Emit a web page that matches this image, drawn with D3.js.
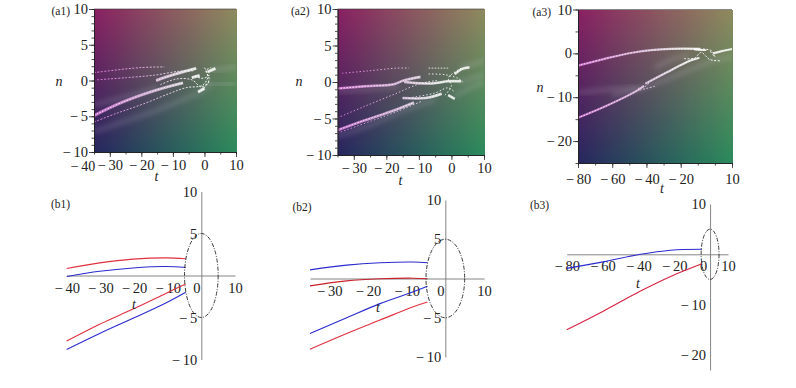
<!DOCTYPE html>
<html>
<head>
<meta charset="utf-8">
<script src="https://cdn.jsdelivr.net/npm/d3@7"></script>
<style>
html, body { margin: 0; padding: 0; background: #fff; }
svg { display: block; }
text { font-family: "Liberation Serif", serif; fill: #222; }
</style>
</head>
<body>
<script>
// background corner colours of the density plots
const cornerTL = "#8a2062", cornerTR = "#8f8a5e", cornerBL = "#26265e", cornerBR = "#2a8a5c";

// (a1) ridges, [t, n]
const a1Bright = [
    [[-35, -4.9], [-25.8, -3], [-15.3, -1.35], [-6.8, -0.33]],
    [[-15.3, 0], [-12.1, 0.5], [-6.8, 1.2], [-2.6, 1.7]],
    [[-4, 0.4], [-1.5, 0.7]],
    [[1, 1.2], [3.5, 1.7]],
    [[-2, -1.6], [0, -1.1]]
];
const a1Dotted = [
    [[-35, 1.1], [-20.5, 1.8], [-12.7, 1.9]],
    [[-34, 0.1], [-24.7, 0.4], [-15.8, 0.75], [-7.9, 1.3], [-3.2, 1.35]],
    [[-35, -5.8], [-27.9, -4.6], [-19.5, -3.3], [-11, -1.8], [-5.8, -1], [-0.5, -0.65], [1.5, 0.8]],
    [[-14, -0.6], [-9, 0.2], [-4, 0.1], [-1, -0.9], [1.5, -0.2]],
    [[-2, -1.6], [0, -1], [1.5, 0.2], [0.5, 1.4], [2, 1.8]],
    [[-3, 0.7], [-1, 0.3], [1, 0.6], [0, 1.8]]
];
const a1Glow = [
    [[-35, -7.2], [-25.8, -5.8], [-15.3, -4.2], [-5.8, -2.5], [-0.5, -1.4], [2, -0.3]],
    [[-35, -3.4], [-25, -2.3], [-15, -1]],
    [[2, 1.4], [6, 1.6], [10, 2]],
    [[1, -0.6], [5, -0.5], [10, -0.4]]
];

// (a2) ridges
const a2Bright = [
    [[-35, -0.9], [-27, -0.6], [-17.7, -0.3], [-14.7, 0.2], [-9.5, 0.7]],
    [[-35, -6.6], [-27, -5.3], [-17.7, -3.9], [-11.5, -2.8]],
    [[-15, -2.2], [-8, -2.2], [-3, -1.6]],
    [[-1, -1.8], [1, -2.3]],
    [[-14.5, 0], [-6, -0.2], [-1, 0.1], [3, 0.1]],
    [[-7, 1.9], [-1, 1.9]],
    [[1, 1.1], [3.3, 1.8], [5.5, 2]]
];
const a2Dotted = [
    [[-33.6, 1.2], [-26, 1.5], [-16.7, 1.9], [-13, 1.9]],
    [[-35, -4.9], [-27, -3.4], [-17.7, -1.7], [-9.5, -0.2], [-4.4, 0.2]],
    [[-35, -7], [-25, -5.4], [-17, -4.1], [-9, -2.6]],
    [[-2, -1.8], [0, -0.5], [-1, 0.5], [0.5, 1.2], [3, 1.9]],
    [[-7, 1.1], [-2, 1], [2, 0.5], [3.5, 0]],
    [[-12, -2.1], [-5, -1.5], [-1, -0.8], [1, -1.4]]
];
const a2Glow = [
    [[-35, -1.3], [-25, -1], [-16, -0.6]],
    [[-35, -7.4], [-25, -5.9], [-15, -4], [-5, -2.4]],
    [[3, 2], [6.5, 2.4], [10, 2.9]],
    [[2, -0.1], [6, 0.4], [10, 1]],
    [[1, -1.9], [5, -1], [10, 0]]
];

// (a3) ridges
const a3Bright = [
    [[-80, -2.8], [-65, -1.3], [-47.4, 0.2], [-26, 1], [-8.5, 1]],
    [[-80, -14.7], [-63, -11.9], [-45.5, -8.5], [-41.5, -7.4]],
    [[-40.6, -6.9], [-28, -4.3], [-14.3, -1.65], [-9, -1]],
    [[-1, 0], [4, 0.5], [10, 1]],
    [[-12, 0.9], [-5, 0.7]]
];
const a3Dotted = [
    [[-44, -8.4], [-40, -8], [-35, -7.5]],
    [[-45, -8], [-41, -7.6], [-38, -6.6]],
    [[-18, -1.2], [-12, -1.1], [-8, 0.2], [-3, -1.4], [3, -1.7]],
    [[-7, 1], [-2, 0.6], [0, -0.8], [-3, 0.6]]
];
const a3Glow = [
    [[-80, -9], [-60, -8.2], [-44, -7.8]],
    [[-60, -9.5], [-45, -8.2], [-30, -6.2], [-15, -3.8], [0, -1.6], [10, -0.8]],
    [[-35, -3.2], [-25, -1.4], [-15, -0.4]]
];

// (b) curves
const tB1 = [-40, -30.2, -20.3, -10.4, -4.65];
const b1RedUpper = [0.83, 1.5, 1.95, 2.1, 2];
const b1BlueUpper = [-0.12, 0.5, 0.9, 1.07, 0.95];
const b1RedLower = [-7.8, -5.8, -4, -2.1, -1];
const b1BlueLower = [-8.8, -6.9, -5.1, -3.25, -2];

const tB2 = [-35, -25.5, -16.9, -8.3, -4.6];
const b2BlueUpper = [1.1, 1.7, 2, 2.1, 2];
const b2RedUpper = [-0.94, -0.3, -0.04, 0.04, -0.04];
const b2BlueLower = [-7, -5, -3.2, -1.7, -1];
const b2RedLower = [-9, -7, -5.3, -3.6, -3];

const tB3 = [-80, -59.6, -38.8, -22, -4.5];
const b3Blue = [-2.8, -1.5, 0, 0.8, 1];
const b3Red = [-15, -11.3, -7.3, -4.4, -1.9];

const circleRadius = 5;

// tick values
const a1XTicks = [-30, -20, -10, 0, 10], a1XMinor = d3.range(-35, 11, 5);
const a2XTicks = [-30, -20, -10, 0, 10], a2XMinor = d3.range(-35, 11, 5);
const a3XTicks = [-80, -60, -40, -20, 10], a3XMinor = d3.range(-80, 11, 10);
const aYTicks = [-10, -5, 0, 5, 10], aYMinor = d3.range(-10, 11, 1);
const a3YTicks = [-20, -10, 0, 10], a3YMinor = d3.range(-25, 11, 5);
const b1XTicks = [-40, -30, -20, -10, 0, 10], b2XTicks = [-30, -20, -10, 0, 10], b3XTicks = [-80, -60, -40, -20, 0, 10];
const bYTicks = [-10, -5, 5, 10], b3YTicks = [-20, -10, 10];

const width = 796, height = 388;
const svg = d3.select("body").append("svg").attr("width", width).attr("height", height);
const defs = svg.append("defs");

const fmt = d => d < 0 ? "\u2212\u2009" + (-d) : String(d);

const blur = defs.append("filter").attr("id", "glow")
    .attr("x", "-20%").attr("y", "-50%").attr("width", "140%").attr("height", "200%");
blur.append("feGaussianBlur").attr("stdDeviation", 2.4);
const soft = defs.append("filter").attr("id", "soft")
    .attr("x", "-20%").attr("y", "-50%").attr("width", "140%").attr("height", "200%");
soft.append("feGaussianBlur").attr("stdDeviation", 0.5);

function label(x, y, str, opts = {}) {
    svg.append("text")
        .attr("x", x).attr("y", y)
        .attr("text-anchor", opts.anchor || "middle")
        .attr("font-size", opts.size || 14.5)
        .attr("font-style", opts.italic ? "italic" : null)
        .text(str);
}

function densityPanel(p) {
    const x = d3.scaleLinear().domain(p.xDomain).range(p.xRange);
    const y = d3.scaleLinear().domain(p.yDomain).range(p.yRange);
    const g = svg.append("g");

    // bilinear colour field
    const nCells = 72;
    const top = d3.interpolateRgb(cornerTL, cornerTR), bottom = d3.interpolateRgb(cornerBL, cornerBR);
    const cells = d3.cross(d3.range(nCells), d3.range(nCells));
    const cw = (p.xRange[1] - p.xRange[0]) / nCells, ch = (p.yRange[0] - p.yRange[1]) / nCells;
    g.selectAll(".cell").data(cells).enter().append("rect")
        .attr("class", "cell")
        .attr("shape-rendering", "crispEdges")
        .attr("x", d => p.xRange[0] + d[0] * cw)
        .attr("y", d => p.yRange[1] + d[1] * ch)
        .attr("width", cw + 1)
        .attr("height", ch + 1)
        .attr("fill", d => d3.interpolateRgb(top((d[0] + 0.5) / nCells), bottom((d[0] + 0.5) / nCells))((d[1] + 0.5) / nCells));

    const clipId = "clip" + p.name;
    defs.append("clipPath").attr("id", clipId).append("rect")
        .attr("x", p.xRange[0]).attr("y", p.yRange[1])
        .attr("width", p.xRange[1] - p.xRange[0]).attr("height", p.yRange[0] - p.yRange[1]);

    const gradId = "ridge" + p.name;
    const grad = defs.append("linearGradient").attr("id", gradId)
        .attr("gradientUnits", "userSpaceOnUse")
        .attr("x1", p.xRange[0]).attr("x2", p.xRange[1]).attr("y1", 0).attr("y2", 0);
    grad.append("stop").attr("offset", 0).attr("stop-color", "#e27be0");
    grad.append("stop").attr("offset", 0.45).attr("stop-color", "#e6c8e8");
    grad.append("stop").attr("offset", 0.7).attr("stop-color", "#ffffff");

    const line = d3.line().x(d => x(d[0])).y(d => y(d[1])).curve(d3.curveCatmullRom);
    const marks = g.append("g").attr("clip-path", `url(#${clipId})`);

    marks.selectAll(".glow").data(p.glow).enter().append("path")
        .attr("d", line).attr("fill", "none")
        .attr("stroke", "#e8dcec").attr("stroke-opacity", 0.16)
        .attr("stroke-width", 4.5).attr("filter", "url(#glow)");
    marks.selectAll(".under").data(p.bright).enter().append("path")
        .attr("d", line).attr("fill", "none")
        .attr("stroke", `url(#${gradId})`).attr("stroke-opacity", 0.8)
        .attr("stroke-width", p.brightWidth).attr("filter", "url(#soft)");
    marks.selectAll(".bright").data(p.bright).enter().append("path")
        .attr("d", line).attr("fill", "none")
        .attr("stroke", "#fff").attr("stroke-width", 0.8)
        .attr("stroke-dasharray", "1.6 1.4");
    marks.selectAll(".dotted").data(p.dotted).enter().append("path")
        .attr("d", line).attr("fill", "none")
        .attr("stroke", `url(#${gradId})`).attr("stroke-width", 0.9)
        .attr("stroke-dasharray", p.dash).attr("filter", "url(#soft)");

    // minor, then labelled ticks
    const bottomY = p.yRange[0], leftX = p.xRange[0];
    const styleAxis = a => {
        a.selectAll("path, line").attr("stroke", "#222").attr("stroke-width", 0.8);
        a.selectAll("text").attr("font-family", '"Liberation Serif", serif').attr("font-size", 14.5).attr("fill", "#222");
    };
    svg.append("g").attr("transform", `translate(0,${bottomY})`)
        .call(d3.axisBottom(x).tickValues(p.xMinor).tickSize(2.5).tickSizeOuter(0).tickFormat(""))
        .call(styleAxis);
    svg.append("g").attr("transform", `translate(${leftX},0)`)
        .call(d3.axisLeft(y).tickValues(p.yMinor).tickSize(2.5).tickSizeOuter(0).tickFormat(""))
        .call(styleAxis);
    svg.append("g").attr("transform", `translate(0,${bottomY})`)
        .call(d3.axisBottom(x).tickValues(p.xTicks).tickSize(5).tickSizeOuter(0).tickPadding(p.xPad).tickFormat(fmt))
        .call(styleAxis);
    svg.append("g").attr("transform", `translate(${leftX},0)`)
        .call(d3.axisLeft(y).tickValues(p.yTicks).tickSize(5).tickSizeOuter(0).tickPadding(1).tickFormat(fmt))
        .call(styleAxis);
    svg.append("line").attr("x1", p.xRange[0]).attr("x2", p.xRange[1])
        .attr("y1", p.yRange[1]).attr("y2", p.yRange[1])
        .attr("stroke", "#333").attr("stroke-width", 0.6);

    label(p.tLabel[0], p.tLabel[1], "t", { italic: true, size: 14 });
    label(p.nLabel[0], p.nLabel[1], "n", { italic: true, size: 14 });
}

function curvePanel(p) {
    const x = d3.scaleLinear().domain(p.xDomain).range(p.xRange);
    const y = d3.scaleLinear().domain(p.yDomain).range(p.yRange);
    const styleAxis = a => {
        a.selectAll("path").attr("stroke", "#777").attr("stroke-width", 0.9);
        a.selectAll("line").attr("stroke", "#999").attr("stroke-width", 0.6);
        a.selectAll("text").attr("font-family", '"Liberation Serif", serif').attr("font-size", 14.5).attr("fill", "#222");
    };
    svg.append("g").attr("transform", `translate(0,${y(0)})`)
        .call(d3.axisBottom(x).tickValues(p.xTicks).tickSize(0).tickPadding(p.xPad).tickFormat(fmt))
        .call(styleAxis)
        .call(a => a.selectAll(".tick text").filter(d => d === 0).attr("dx", p.zeroShift));
    svg.append("g").attr("transform", `translate(${x(0)},0)`)
        .call(d3.axisLeft(y).tickValues(p.yTicks).tickSize(0).tickPadding(4).tickFormat(fmt))
        .call(styleAxis);

    const line = d3.line().x(d => x(d[0])).y(d => y(d[1])).curve(d3.curveCatmullRom);
    p.curves.forEach(c => {
        svg.append("path")
            .attr("d", line(c.t.map((t, i) => [t, c.n[i]])))
            .attr("fill", "none").attr("stroke", c.color).attr("stroke-width", 1.1);
    });
    svg.append("ellipse")
        .attr("cx", x(0)).attr("cy", y(0))
        .attr("rx", x(circleRadius) - x(0)).attr("ry", y(0) - y(circleRadius))
        .attr("fill", "none").attr("stroke", "#222").attr("stroke-width", 0.9)
        .attr("stroke-dasharray", "4 1.5 1 1.5");
    label(p.tLabel[0], p.tLabel[1], "t", { italic: true, size: 14 });
}

densityPanel({
    name: "a1", xDomain: [-35, 10], yDomain: [-10, 10], xRange: [94, 236], yRange: [152, 9],
    xTicks: a1XTicks, xMinor: a1XMinor, yTicks: aYTicks, yMinor: aYMinor, xPad: 3,
    bright: a1Bright, dotted: a1Dotted, glow: a1Glow, dash: "2 1.5", brightWidth: 3,
    tLabel: [156.5, 181], nLabel: [59, 86]
});
label(83, 171, fmt(-40), { size: 14 });

densityPanel({
    name: "a2", xDomain: [-35, 10], yDomain: [-10, 10], xRange: [337.5, 484], yRange: [155, 9],
    xTicks: a2XTicks, xMinor: a2XMinor, yTicks: aYTicks, yMinor: aYMinor, xPad: 3,
    bright: a2Bright, dotted: a2Dotted, glow: a2Glow, dash: "1.5 2", brightWidth: 2.6,
    tLabel: [400.5, 185], nLabel: [299, 86]
});

densityPanel({
    name: "a3", xDomain: [-80, 10], yDomain: [-25, 10], xRange: [578, 732], yRange: [163, 9.5],
    xTicks: a3XTicks, xMinor: a3XMinor, yTicks: a3YTicks, yMinor: a3YMinor, xPad: 6,
    bright: a3Bright, dotted: a3Dotted, glow: a3Glow, dash: "2 1.5", brightWidth: 2.2,
    tLabel: [662, 193], nLabel: [540, 92]
});

curvePanel({
    xDomain: [-40, 10], yDomain: [-10, 10], xRange: [66.7, 235], yRange: [359.5, 191.5],
    xTicks: b1XTicks, yTicks: bYTicks, xPad: 7, zeroShift: -5,
    curves: [
        { t: tB1, n: b1RedUpper, color: "#e0303f" },
        { t: tB1, n: b1BlueUpper, color: "#2a2ad0" },
        { t: tB1, n: b1RedLower, color: "#e0303f" },
        { t: tB1, n: b1BlueLower, color: "#2a2ad0" }
    ],
    tLabel: [134, 309]
});

curvePanel({
    xDomain: [-35, 10], yDomain: [-10, 10], xRange: [310, 484], yRange: [357, 200],
    xTicks: b2XTicks, yTicks: bYTicks, xPad: 7, zeroShift: -5,
    curves: [
        { t: tB2, n: b2BlueUpper, color: "#2a2ad0" },
        { t: tB2, n: b2RedUpper, color: "#c8202c" },
        { t: tB2, n: b2BlueLower, color: "#2a2ad0" },
        { t: tB2, n: b2RedLower, color: "#e0303f" }
    ],
    tLabel: [378, 312]
});

curvePanel({
    xDomain: [-80, 10], yDomain: [-23, 10], xRange: [566.7, 728], yRange: [370, 204],
    xTicks: b3XTicks, yTicks: b3YTicks, xPad: 6, zeroShift: -7,
    curves: [
        { t: tB3, n: b3Blue, color: "#2a2ad0" },
        { t: tB3, n: b3Red, color: "#d8203f" }
    ],
    tLabel: [638, 288]
});

// panel names
const panelNames = ["(a1)", "(a2)", "(a3)", "(b1)", "(b2)", "(b3)"];
const panelAnchors = [[51.5, 15], [291, 15], [532.5, 16], [51, 208], [292.5, 211], [530, 209]];
panelNames.forEach((s, i) => label(panelAnchors[i][0], panelAnchors[i][1], s, { anchor: "start", size: 11.5 }));
</script>
</body>
</html>
